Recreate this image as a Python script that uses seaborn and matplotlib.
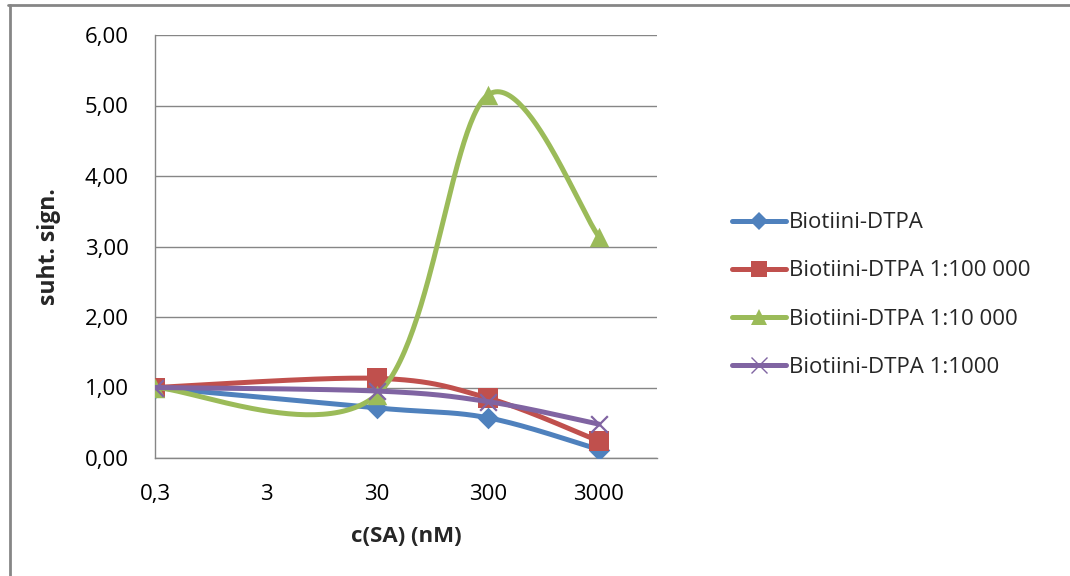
import numpy as np
import pandas as pd
import matplotlib
matplotlib.use("Agg")
import matplotlib.pyplot as plt
from matplotlib.lines import Line2D
from matplotlib.ticker import FixedLocator, FixedFormatter, NullLocator
import seaborn as sns

# Streptavidin concentration (nM) and relative signal per series
conc_nM = [0.3, 30, 300, 3000]
series_names = [
    "Biotiini-DTPA",
    "Biotiini-DTPA 1:100 000",
    "Biotiini-DTPA 1:10 000",
    "Biotiini-DTPA 1:1000",
]
biotiini = [1.00, 0.71, 0.57, 0.12]
dil_100000 = [1.00, 1.13, 0.85, 0.24]
dil_10000 = [1.00, 0.90, 5.15, 3.14]
dil_1000 = [1.00, 0.95, 0.80, 0.48]

x_ticks = [0.3, 3, 30, 300, 3000]
x_tick_labels = ["0,3", "3", "30", "300", "3000"]
y_ticks = [0, 1, 2, 3, 4, 5, 6]
y_tick_labels = ["0,00", "1,00", "2,00", "3,00", "4,00", "5,00", "6,00"]

colors = ["#4F81BD", "#C0504D", "#9BBB59", "#8064A2"]
markers = ["D", "s", "^", "x"]
marker_sizes = [11, 14, 14, 12]

sns.set_theme(style="white")
plt.rcParams["font.family"] = ["Open Sans", "DejaVu Sans"]
FS = 16
GRID = "#868686"


def smooth_curve(xs, ys, n=60):
    """Bezier smoothing through the points (Catmull-Rom tangents, log-x space)."""
    P = np.column_stack([np.log10(xs), np.asarray(ys, float)])
    ext = np.vstack([P[0], P, P[-1]])
    t = np.linspace(0, 1, n)[:, None]
    parts = []
    for i in range(len(P) - 1):
        p0, p1 = P[i], P[i + 1]
        c1 = p0 + (ext[i + 2] - ext[i]) / 6
        c2 = p1 - (ext[i + 3] - ext[i + 1]) / 6
        seg = (1 - t) ** 3 * p0 + 3 * (1 - t) ** 2 * t * c1 + 3 * (1 - t) * t ** 2 * c2 + t ** 3 * p1
        parts.append(seg if i == 0 else seg[1:])
    pts = np.vstack(parts)
    return 10 ** pts[:, 0], pts[:, 1]


fig = plt.figure(figsize=(10.7, 5.76), dpi=100)
ax = fig.add_axes([155 / 1070, 1 - 458 / 576, (657 - 155) / 1070, (458 - 35) / 576])

all_series = [biotiini, dil_100000, dil_10000, dil_1000]
for k, (name, vals) in enumerate(zip(series_names, all_series)):
    sx, sy = smooth_curve(conc_nM, vals)
    curve = pd.DataFrame({"x": sx, "y": sy})
    sns.lineplot(data=curve, x="x", y="y", sort=False, estimator=None,
                 color=colors[k], lw=3.6, ax=ax, zorder=3 + 2 * k, legend=False)
    pts = pd.DataFrame({"x": conc_nM, "y": vals})
    if markers[k] == "x":
        sns.scatterplot(data=pts, x="x", y="y", marker="x", s=marker_sizes[k] ** 2,
                        color=colors[k], linewidth=1.6, ax=ax, zorder=4 + 2 * k, legend=False)
    else:
        sns.scatterplot(data=pts, x="x", y="y", marker=markers[k], s=marker_sizes[k] ** 2,
                        color=colors[k], edgecolor=colors[k], linewidth=0,
                        ax=ax, zorder=4 + 2 * k, legend=False)

ax.set_xscale("log")
ax.set_xlim(0.3, 10000)
ax.set_ylim(0, 6)
ax.xaxis.set_major_locator(FixedLocator(x_ticks))
ax.xaxis.set_major_formatter(FixedFormatter(x_tick_labels))
ax.xaxis.set_minor_locator(NullLocator())
ax.yaxis.set_major_locator(FixedLocator(y_ticks))
ax.yaxis.set_major_formatter(FixedFormatter(y_tick_labels))
ax.tick_params(axis="x", length=0, pad=19, labelsize=FS, labelcolor="#000000")
ax.tick_params(axis="y", length=0, pad=19, labelsize=FS, labelcolor="#000000")

ax.grid(axis="y", color=GRID, lw=1.0)
ax.grid(axis="x", visible=False)
ax.set_axisbelow(True)
for side in ["top", "right"]:
    ax.spines[side].set_visible(False)
for side in ["left", "bottom"]:
    ax.spines[side].set_color(GRID)
    ax.spines[side].set_linewidth(1.0)

ax.set_xlabel("c(SA) (nM)", fontsize=FS, fontweight="bold", labelpad=15)
ax.set_ylabel("suht. sign.", fontsize=FS + 0.5, fontweight="bold", labelpad=17)

handles = []
for k in range(4):
    if markers[k] == "x":
        h = Line2D([], [], color=colors[k], lw=3.6, marker="x", markersize=12,
                   markeredgewidth=1.0)
    else:
        h = Line2D([], [], color=colors[k], lw=3.6, marker=markers[k],
                   markersize=marker_sizes[k] * 0.85, markeredgewidth=0)
    handles.append(h)
fig.legend(handles, series_names, loc="center left",
           bbox_to_anchor=(723 / 1070, 1 - 295 / 576), frameon=False,
           fontsize=FS, handlelength=2.45, handletextpad=0.12, labelspacing=1.22,
           borderaxespad=0)

# chart-area frame (top and left edges)
fig.add_artist(Line2D([8 / 1070, 1.0], [1 - 4.5 / 576, 1 - 4.5 / 576],
                      color=GRID, lw=2.0, transform=fig.transFigure))
fig.add_artist(Line2D([9.5 / 1070, 9.5 / 1070], [0.0, 1 - 4.5 / 576],
                      color=GRID, lw=2.0, transform=fig.transFigure))

fig.savefig("out.png", dpi=100)
